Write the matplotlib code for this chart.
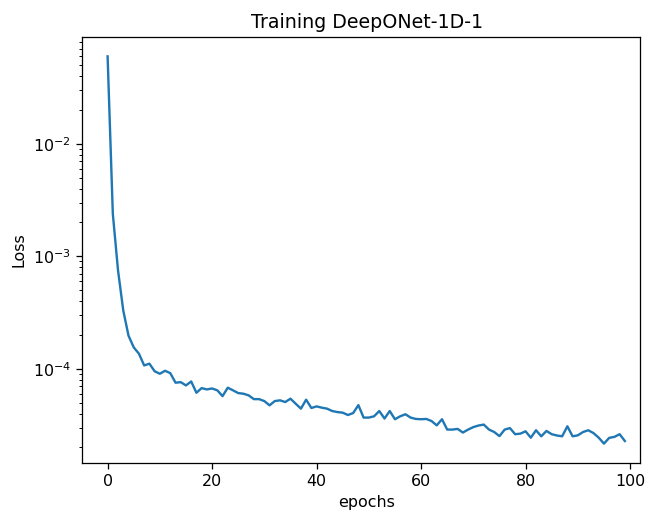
import matplotlib
matplotlib.use("Agg")
import matplotlib.pyplot as plt

# training loss per epoch
epochs = list(range(100))
loss = [
    5.98e-2, 2.38e-3, 7.45e-4, 3.29e-4, 1.97e-4, 1.55e-4, 1.36e-4, 1.07e-4, 1.11e-4, 9.50e-5,
    9.03e-5, 9.60e-5, 9.14e-5, 7.52e-5, 7.60e-5, 7.11e-5, 7.71e-5, 6.12e-5, 6.73e-5, 6.55e-5,
    6.68e-5, 6.43e-5, 5.71e-5, 6.79e-5, 6.43e-5, 6.08e-5, 6.00e-5, 5.80e-5, 5.37e-5, 5.37e-5,
    5.16e-5, 4.73e-5, 5.16e-5, 5.24e-5, 5.06e-5, 5.42e-5, 4.89e-5, 4.42e-5, 5.31e-5, 4.48e-5,
    4.63e-5, 4.51e-5, 4.42e-5, 4.21e-5, 4.12e-5, 4.07e-5, 3.88e-5, 4.04e-5, 4.75e-5, 3.68e-5,
    3.68e-5, 3.78e-5, 4.21e-5, 3.61e-5, 4.21e-5, 3.56e-5, 3.78e-5, 3.94e-5, 3.68e-5, 3.58e-5,
    3.56e-5, 3.58e-5, 3.43e-5, 3.14e-5, 3.56e-5, 2.88e-5, 2.88e-5, 2.92e-5, 2.71e-5, 2.88e-5,
    3.03e-5, 3.13e-5, 3.19e-5, 2.88e-5, 2.74e-5, 2.52e-5, 2.88e-5, 2.97e-5, 2.62e-5, 2.65e-5,
    2.78e-5, 2.44e-5, 2.84e-5, 2.51e-5, 2.80e-5, 2.62e-5, 2.55e-5, 2.51e-5, 3.08e-5, 2.51e-5,
    2.56e-5, 2.74e-5, 2.84e-5, 2.68e-5, 2.44e-5, 2.16e-5, 2.43e-5, 2.48e-5, 2.62e-5, 2.28e-5,
]

DPI = 114
fig = plt.figure(figsize=(649 / DPI, 510 / DPI), dpi=DPI)
ax = fig.add_axes([82 / 649, 47 / 510, 558 / 649, 426 / 510])

ax.plot(epochs, loss)
ax.set_yscale("log")
# screenshot is cropped on the right, so the visible x range is a bit short
ax.set_xlim(-4.9, 101.9)
ax.set_title("Training DeepONet-1D-1", x=(367 - 82) / 558)
ax.set_xlabel("epochs", x=(367 - 82) / 558)
ax.set_ylabel("Loss")

fig.savefig("out.png", dpi=DPI)
